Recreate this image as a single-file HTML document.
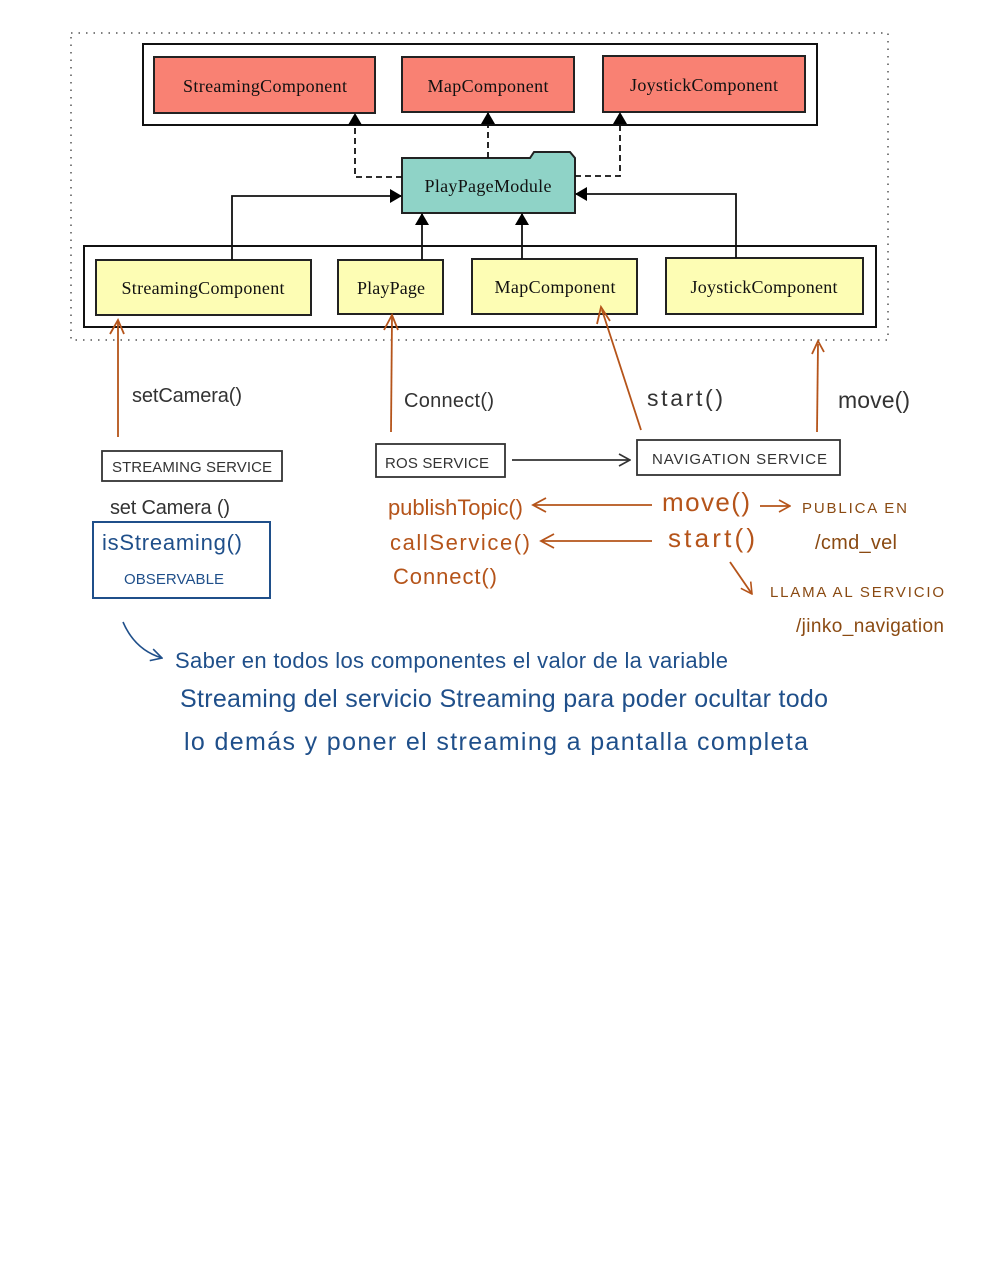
<!DOCTYPE html>
<html><head><meta charset="utf-8"><style>
body{margin:0;background:#fff;width:990px;height:1280px;overflow:hidden}
svg{display:block}
.s{font-family:"Liberation Serif",serif;font-size:18px;fill:#111}
.h{font-family:"Liberation Sans",sans-serif}
</style></head><body>
<svg width="990" height="1280" viewBox="0 0 990 1280" font-size="20">
<defs>
<marker id="a" markerWidth="12" markerHeight="14" refX="11" refY="7" orient="auto" markerUnits="userSpaceOnUse" viewBox="0 0 12 14"><path d="M0,0 L12,7 L0,14 z" fill="#000"/></marker>
<marker id="k" markerWidth="14" markerHeight="14" refX="13" refY="7" orient="auto" markerUnits="userSpaceOnUse" viewBox="0 0 14 14"><path d="M2,1 L13,7 L2,13" fill="none" stroke="#333" stroke-width="1.6"/></marker>
<marker id="ob" markerWidth="14" markerHeight="14" refX="13" refY="7" orient="auto" markerUnits="userSpaceOnUse" viewBox="0 0 14 14"><path d="M2,1 L13,7 L2,13" fill="none" stroke="#b5541a" stroke-width="1.6"/></marker>
<marker id="bb" markerWidth="14" markerHeight="14" refX="13" refY="7" orient="auto" markerUnits="userSpaceOnUse" viewBox="0 0 14 14"><path d="M2,1 L13,7 L2,13" fill="none" stroke="#1f4f8a" stroke-width="1.6"/></marker>
</defs>
<rect x="71" y="33" width="817" height="307" fill="none" stroke="#555" stroke-width="1.5" stroke-dasharray="1.5 6"/>
<rect x="143" y="44" width="674" height="81" fill="none" stroke="#111" stroke-width="2"/>
<g stroke="#222" stroke-width="2" fill="#f98173">
<rect x="154" y="57" width="221" height="56"/><rect x="402" y="57" width="172" height="55"/><rect x="603" y="56" width="202" height="56"/></g>
<text class="s" x="265" y="92" text-anchor="middle" textLength="164">StreamingComponent</text>
<text class="s" x="488" y="92" text-anchor="middle" textLength="121">MapComponent</text>
<text class="s" x="704" y="91" text-anchor="middle" textLength="148">JoystickComponent</text>
<path d="M402,158 L530,158 L534,152 L570,152 L575,158 L575,213 L402,213 z" fill="#8fd3c7" stroke="#222" stroke-width="2"/>
<text class="s" x="488" y="192" text-anchor="middle" textLength="127">PlayPageModule</text>
<g stroke="#111" stroke-width="1.8" fill="none" stroke-dasharray="6 4">
<path d="M402,177 L355,177 L355,114" marker-end="url(#a)"/><path d="M488,158 L488,113" marker-end="url(#a)"/><path d="M575,176 L620,176 L620,113" marker-end="url(#a)"/></g>
<rect x="84" y="246" width="792" height="81" fill="none" stroke="#111" stroke-width="2"/>
<g stroke="#222" stroke-width="2" fill="#fdfdb4">
<rect x="96" y="260" width="215" height="55"/><rect x="338" y="260" width="105" height="54"/><rect x="472" y="259" width="165" height="55"/><rect x="666" y="258" width="197" height="56"/></g>
<text class="s" x="203" y="294" text-anchor="middle" textLength="163">StreamingComponent</text>
<text class="s" x="391" y="294" text-anchor="middle" textLength="68">PlayPage</text>
<text class="s" x="555" y="293" text-anchor="middle" textLength="121">MapComponent</text>
<text class="s" x="764" y="293" text-anchor="middle" textLength="147">JoystickComponent</text>
<g stroke="#111" stroke-width="1.8" fill="none">
<path d="M232,260 L232,196 L401,196" marker-end="url(#a)"/><path d="M422,260 L422,214" marker-end="url(#a)"/><path d="M522,259 L522,214" marker-end="url(#a)"/><path d="M736,258 L736,194 L576,194" marker-end="url(#a)"/></g>
<g stroke="#b5541a" stroke-width="1.8" fill="none">
<path d="M118,437 L118,322"/><path d="M110,334 L118,320 L124,334"/>
<path d="M391,432 L392,317"/><path d="M384,330 L392,315 L398,330"/>
<path d="M641,430 L602,310"/><path d="M597,324 L601,307 L610,321"/>
<path d="M817,432 L818,344"/><path d="M812,354 L818,341 L824,352"/>
</g>
<g class="h" fill="#333">
<text x="132" y="402" textLength="110">setCamera()</text>
<text x="404" y="407" textLength="90">Connect()</text>
<text x="647" y="406" textLength="76" font-size="23">start()</text>
<text x="838" y="408" textLength="72" font-size="23">move()</text>
</g>
<g fill="none" stroke="#333" stroke-width="1.8">
<rect x="102" y="451" width="180" height="30"/><rect x="376" y="444" width="129" height="33"/><rect x="637" y="440" width="203" height="35"/>
<path d="M512,460 L630,460" marker-end="url(#k)"/></g>
<g font-family="Liberation Sans,sans-serif" font-size="15" fill="#333">
<text x="112" y="472" textLength="160">STREAMING  SERVICE</text>
<text x="385" y="468" textLength="104">ROS SERVICE</text>
<text x="652" y="464" textLength="175">NAVIGATION SERVICE</text></g>
<text class="h" x="110" y="514" fill="#333" textLength="120">set Camera ()</text>
<rect x="93" y="522" width="177" height="76" fill="none" stroke="#1f4f8a" stroke-width="2"/>
<text class="h" x="102" y="550" fill="#1f4f8a" textLength="140" font-size="22">isStreaming()</text>
<text x="124" y="584" font-family="Liberation Sans,sans-serif" font-size="15" fill="#1f4f8a" textLength="100">OBSERVABLE</text>
<g class="h" fill="#b5541a" font-size="22">
<text x="388" y="515" textLength="135">publishTopic()</text>
<text x="390" y="550" textLength="140">callService()</text>
<text x="393" y="584" textLength="104">Connect()</text>
<text x="662" y="511" textLength="88" font-size="26">move()</text>
<text x="668" y="547" textLength="87" font-size="26">start()</text></g>
<g stroke="#b5541a" stroke-width="1.8" fill="none">
<path d="M652,505 L534,505"/><path d="M546,498 L533,505 L546,512"/>
<path d="M652,541 L541,541"/><path d="M554,534 L541,541 L554,548"/>
<path d="M760,506 L790,506" marker-end="url(#ob)"/>
<path d="M730,562 L752,594" marker-end="url(#ob)"/></g>
<g font-family="Liberation Sans,sans-serif" fill="#8a4a12">
<text x="802" y="513" font-size="15" textLength="105">PUBLICA  EN</text>
<text x="815" y="549" font-size="20" textLength="82">/cmd_vel</text>
<text x="770" y="597" font-size="15" textLength="174">LLAMA  AL  SERVICIO</text>
<text x="796" y="632" font-size="19" textLength="148">/jinko_navigation</text></g>
<path d="M123,622 Q135,650 162,658" fill="none" stroke="#1f4f8a" stroke-width="1.6" marker-end="url(#bb)"/>
<g class="h" fill="#1f4f8a">
<text x="175" y="668" textLength="553" font-size="22">Saber en todos los componentes el valor de la variable</text>
<text x="180" y="707" textLength="648" font-size="25">Streaming  del servicio  Streaming  para  poder  ocultar  todo</text>
<text x="184" y="750" textLength="624" font-size="25">lo demás  y  poner el streaming  a  pantalla  completa</text></g>
</svg>
</body></html>
